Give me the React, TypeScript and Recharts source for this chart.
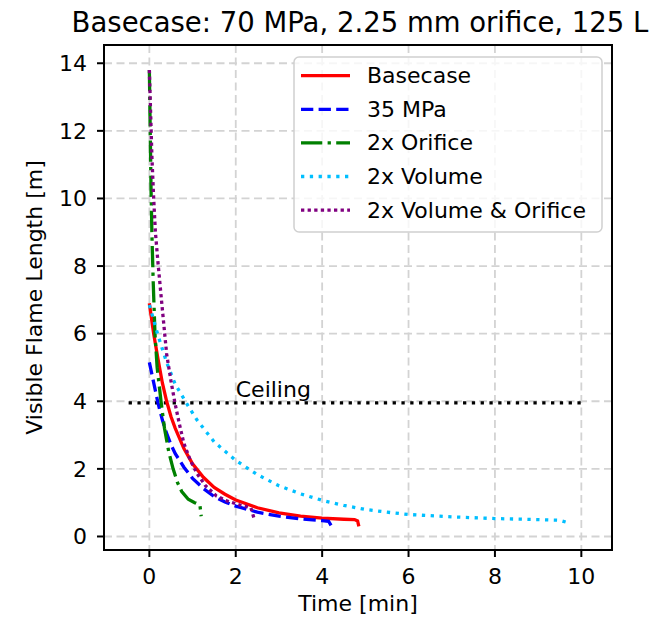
import {
  LineChart,
  Line,
  XAxis,
  YAxis,
  CartesianGrid,
  Legend,
  ReferenceLine,
  ReferenceDot,
  ReferenceArea,
} from 'recharts';

// Time [min] / visible flame length [m]
const basecaseTime = [0, 0.1, 0.2, 0.3, 0.4, 0.5, 0.6, 0.8, 1.0, 1.25, 1.5, 1.75, 2.0, 2.5, 3.0, 3.5, 4.0, 4.5, 4.75, 4.82, 4.85];
const basecaseLength = [6.9, 6.0, 5.25, 4.55, 4.0, 3.55, 3.2, 2.6, 2.15, 1.75, 1.45, 1.25, 1.08, 0.85, 0.7, 0.6, 0.54, 0.51, 0.5, 0.46, 0.3];

const mpa35Time = [0, 0.1, 0.2, 0.3, 0.4, 0.5, 0.6, 0.8, 1.0, 1.25, 1.5, 1.75, 2.0, 2.5, 3.0, 3.5, 4.0, 4.15, 4.22];
const mpa35Length = [5.15, 4.55, 3.95, 3.45, 3.05, 2.72, 2.45, 2.05, 1.72, 1.42, 1.18, 1.02, 0.9, 0.72, 0.6, 0.52, 0.47, 0.45, 0.3];

const orificeTime = [0, 0.02, 0.04, 0.06, 0.09, 0.13, 0.18, 0.27, 0.35, 0.45, 0.55, 0.65, 0.75, 0.9, 1.05, 1.17, 1.2];
const orificeLength = [13.8, 12.0, 10.2, 8.9, 7.5, 6.0, 5.0, 4.0, 3.2, 2.5, 2.0, 1.6, 1.33, 1.1, 1.0, 0.93, 0.6];

const volumeTime = [0, 0.1, 0.2, 0.4, 0.6, 0.88, 1.1, 1.5, 2.0, 2.5, 3.0, 3.5, 4.0, 4.5, 5.0, 5.5, 6.0, 7.0, 8.0, 9.0, 9.5, 9.66];
const volumeLength = [6.85, 6.4, 5.95, 5.15, 4.5, 3.9, 3.45, 2.8, 2.25, 1.83, 1.5, 1.26, 1.07, 0.92, 0.8, 0.72, 0.65, 0.58, 0.53, 0.5, 0.48, 0.42];

const volOrificeTime = [0, 0.03, 0.06, 0.1, 0.14, 0.2, 0.28, 0.4, 0.5, 0.6, 0.7, 0.8, 0.95, 1.1, 1.3, 1.55, 1.8, 2.1, 2.35, 2.42];
const volOrificeLength = [13.8, 12.5, 11.2, 10.0, 9.0, 8.1, 7.0, 5.4, 4.6, 3.9, 3.3, 2.75, 2.25, 1.87, 1.5, 1.2, 1.05, 0.93, 0.85, 0.55];

const ceilingHeight = 3.95;
const ceilingStart = -0.48;
const ceilingEnd = 10.05;

const xTicks = [0, 2, 4, 6, 8, 10];
const yTicks = [0, 2, 4, 6, 8, 10, 12, 14];
const X_DOMAIN = [-1.05, 10.71];
const Y_DOMAIN = [-0.4, 14.54];

const FONT = '"DejaVu Sans", sans-serif';

const zip = (t: number[], l: number[]) => t.map((v, i) => ({ t: v, l: l[i] }));

const series = [
  { name: 'Basecase', data: zip(basecaseTime, basecaseLength), color: '#ff0000', dash: undefined },
  { name: '35 MPa', data: zip(mpa35Time, mpa35Length), color: '#0000ff', dash: '12.3 5.3' },
  { name: '2x Orifice', data: zip(orificeTime, orificeLength), color: '#008000', dash: '21.3 5.3 3.3 5.3' },
  { name: '2x Volume', data: zip(volumeTime, volumeLength), color: '#00bfff', dash: '3.3 5.5' },
  { name: '2x Volume & Orifice', data: zip(volOrificeTime, volOrificeLength), color: '#800080', dash: '3.3 3.3' },
];

const renderLegend = () => (
  <svg width={310} height={177} style={{ display: 'block' }}>
    <rect x={1} y={1} width={308} height={175} rx={5} fill="#ffffff" fillOpacity={0.8} stroke="#d0d0d0" strokeWidth={1.5} />
    {series.map((s, i) => {
      const y = 19.7 + i * 33.6;
      return (
        <g key={s.name}>
          <line x1={8} x2={57} y1={y} y2={y} stroke={s.color} strokeWidth={3.3} strokeDasharray={s.dash} />
          <text x={74} y={y} dominantBaseline="central" fontSize={22} fontFamily={FONT} fill="#000">
            {s.name}
          </text>
        </g>
      );
    })}
  </svg>
);

const CeilingLabel = (props: any) => {
  const { viewBox } = props;
  return (
    <text x={viewBox.x} y={viewBox.y} fontSize={22} fontFamily={FONT} fill="#000">
      Ceiling
    </text>
  );
};

export default function App() {
  return (
    <div style={{ position: 'absolute', left: 0, top: 0, width: 649, height: 617, background: '#fff', overflow: 'hidden' }}>
      <div
        style={{
          position: 'absolute',
          left: 360,
          top: 9,
          transform: 'translateX(-50%)',
          fontFamily: FONT,
          fontSize: 27.5,
          lineHeight: '27px',
          whiteSpace: 'nowrap',
          color: '#000',
        }}
      >
        Basecase: 70 MPa, 2.25 mm orifice, 125 L
      </div>
      <LineChart width={649} height={617} margin={{ top: 45, right: 37, bottom: 0, left: 0 }}>
        <CartesianGrid stroke="#d3d3d3" strokeWidth={1.8} strokeDasharray="8 4.5" />
        <XAxis
          type="number"
          dataKey="t"
          domain={X_DOMAIN}
          allowDataOverflow
          ticks={xTicks}
          height={67}
          axisLine={false}
          tickSize={7}
          tickMargin={11}
          tickLine={{ stroke: '#000', strokeWidth: 2 }}
          tick={{ fill: '#000', fontSize: 22, fontFamily: FONT }}
          label={{ value: 'Time [min]', position: 'insideBottom', offset: 6, fill: '#000', fontSize: 22, fontFamily: FONT }}
        />
        <YAxis
          type="number"
          dataKey="l"
          domain={Y_DOMAIN}
          allowDataOverflow
          ticks={yTicks}
          width={104}
          axisLine={false}
          tickSize={7}
          tickMargin={10}
          tickLine={{ stroke: '#000', strokeWidth: 2 }}
          tick={{ fill: '#000', fontSize: 22, fontFamily: FONT }}
          label={{
            value: 'Visible Flame Length [m]',
            angle: -90,
            position: 'insideLeft',
            offset: 34,
            fill: '#000',
            fontSize: 22,
            fontFamily: FONT,
            style: { textAnchor: 'middle' },
          }}
        />
        <ReferenceLine
          segment={[
            { x: ceilingStart, y: ceilingHeight },
            { x: ceilingEnd, y: ceilingHeight },
          ]}
          stroke="#000"
          strokeWidth={3.3}
          strokeDasharray="3.3 5.5"
        />
        <ReferenceDot x={2} y={4.12} r={0} fill="none" stroke="none" label={<CeilingLabel />} />
        {series.map((s) => (
          <Line
            key={s.name}
            data={s.data}
            dataKey="l"
            name={s.name}
            type="linear"
            stroke={s.color}
            strokeWidth={3.3}
            strokeDasharray={s.dash}
            dot={false}
            activeDot={false}
            isAnimationActive={false}
          />
        ))}
        <ReferenceArea
          x1={X_DOMAIN[0]}
          x2={X_DOMAIN[1]}
          y1={Y_DOMAIN[0]}
          y2={Y_DOMAIN[1]}
          fill="none"
          fillOpacity={0}
          stroke="#000"
          strokeWidth={2}
          ifOverflow="visible"
        />
        <Legend
          layout="vertical"
          align="center"
          verticalAlign="middle"
          content={renderLegend}
          wrapperStyle={{ left: 293, top: 56, width: 310, height: 177 }}
        />
      </LineChart>
    </div>
  );
}
